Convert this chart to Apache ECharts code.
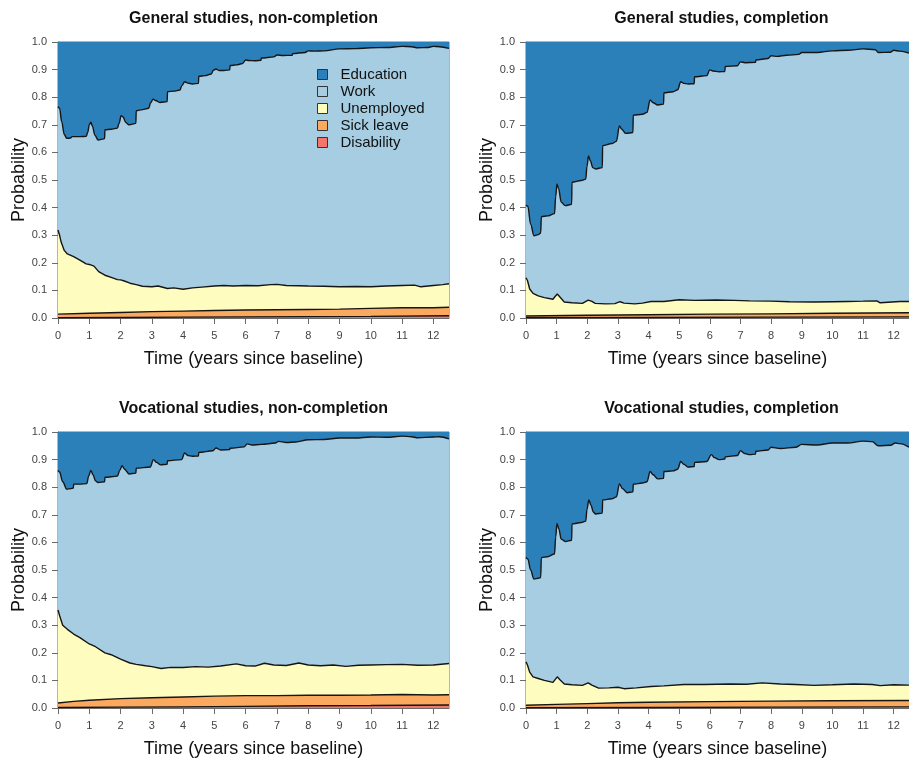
<!DOCTYPE html>
<html>
<head>
<meta charset="utf-8">
<script src="https://cdn.jsdelivr.net/npm/echarts@6/dist/echarts.min.js"></script>
<style>
  html, body { margin: 0; padding: 0; background: #fff; }
  #main { width: 909px; height: 761px; }
</style>
</head>
<body>
<div id="main"></div>
<script>
// states, bottom of the stack last
const states = ['Education', 'Work', 'Unemployed', 'Sick leave', 'Disability']
const stateColors = ['#2c80b9', '#a6cde2', '#fefcbf', '#fba95f', '#f2766b']
const titles = [
  'General studies, non-completion',
  'General studies, completion',
  'Vocational studies, non-completion',
  'Vocational studies, completion'
]
const yearTicks = [0, 1, 2, 3, 4, 5, 6, 7, 8, 9, 10, 11, 12]

// upper edge of each band, [years, cumulative probability]
const eduTop = [[0, 1], [12.5, 1]]

// general studies, non-completion
const gnWorkTop = [[0,0.766],[0.05,0.76],[0.12,0.71],[0.2,0.665],[0.28,0.651],[0.4,0.652],[0.45,0.657],[0.7,0.657],[0.9,0.658],[0.95,0.672],[1.0,0.700],[1.05,0.709],[1.1,0.695],[1.18,0.662],[1.28,0.645],[1.42,0.648],[1.49,0.650],[1.5,0.682],[1.7,0.684],[1.9,0.688],[1.95,0.705],[2.02,0.733],[2.08,0.728],[2.17,0.708],[2.27,0.700],[2.49,0.705],[2.5,0.751],[2.7,0.755],[2.9,0.760],[2.96,0.78],[3.04,0.793],[3.12,0.788],[3.26,0.781],[3.49,0.784],[3.5,0.82],[3.7,0.822],[3.9,0.826],[3.96,0.842],[4.05,0.856],[4.15,0.851],[4.3,0.848],[4.49,0.85],[4.5,0.876],[4.7,0.878],[4.9,0.884],[4.97,0.898],[5.05,0.902],[5.15,0.897],[5.3,0.897],[5.49,0.899],[5.5,0.915],[5.7,0.917],[5.9,0.922],[6.0,0.935],[6.1,0.933],[6.3,0.932],[6.49,0.934],[6.5,0.942],[6.9,0.946],[7.0,0.953],[7.2,0.951],[7.49,0.952],[7.5,0.958],[7.9,0.962],[8.0,0.968],[8.2,0.967],[8.5,0.968],[9.0,0.975],[9.5,0.976],[10.0,0.979],[10.5,0.980],[11.0,0.984],[11.3,0.983],[11.5,0.979],[11.8,0.980],[12.0,0.984],[12.2,0.983],[12.5,0.977]]
const gnUnempTop = [[0,0.319],[0.05,0.3],[0.1,0.275],[0.2,0.245],[0.3,0.232],[0.5,0.222],[0.7,0.21],[0.9,0.196],[1.0,0.194],[1.05,0.198],[1.15,0.188],[1.3,0.168],[1.5,0.155],[1.7,0.147],[1.9,0.139],[2.0,0.138],[2.1,0.135],[2.3,0.126],[2.5,0.121],[2.7,0.115],[3.0,0.113],[3.2,0.116],[3.5,0.107],[3.7,0.109],[4.0,0.104],[4.3,0.109],[4.6,0.112],[5.0,0.116],[5.3,0.118],[5.6,0.116],[6.0,0.118],[6.4,0.117],[6.8,0.121],[7.0,0.122],[7.3,0.118],[7.7,0.117],[8.0,0.116],[8.5,0.115],[9.0,0.113],[9.5,0.114],[10.0,0.113],[10.5,0.116],[11.0,0.118],[11.4,0.119],[11.6,0.113],[12.0,0.118],[12.3,0.121],[12.5,0.124]]
const gnSickTop = [[0,0.014],[1,0.017],[2,0.02],[3,0.023],[4,0.025],[5,0.027],[6,0.029],[7,0.03],[8,0.031],[9,0.032],[10,0.035],[11,0.037],[12,0.037],[12.5,0.039]]
const gnDisTop = [[0,0.001],[2,0.002],[4,0.003],[6,0.004],[8,0.005],[10,0.006],[12.5,0.008]]

// general studies, completion
const gcWorkTop = [[0,0.409],[0.06,0.405],[0.15,0.34],[0.26,0.298],[0.4,0.302],[0.48,0.308],[0.5,0.367],[0.7,0.37],[0.93,0.378],[0.97,0.44],[1.01,0.486],[1.06,0.47],[1.15,0.42],[1.28,0.407],[1.49,0.412],[1.5,0.492],[1.8,0.498],[1.95,0.503],[1.99,0.55],[2.04,0.587],[2.1,0.57],[2.18,0.545],[2.27,0.54],[2.49,0.545],[2.5,0.624],[2.8,0.632],[2.95,0.64],[3.05,0.696],[3.12,0.685],[3.25,0.669],[3.49,0.672],[3.5,0.735],[3.8,0.738],[3.95,0.745],[4.05,0.79],[4.15,0.78],[4.3,0.772],[4.49,0.775],[4.5,0.816],[4.8,0.82],[4.95,0.827],[5.05,0.856],[5.15,0.85],[5.3,0.848],[5.49,0.849],[5.5,0.874],[5.9,0.878],[6.0,0.899],[6.1,0.895],[6.3,0.892],[6.49,0.893],[6.5,0.911],[6.9,0.914],[7.0,0.928],[7.15,0.925],[7.49,0.926],[7.5,0.935],[7.9,0.94],[8.0,0.95],[8.2,0.948],[8.5,0.952],[8.9,0.955],[9.0,0.962],[9.5,0.962],[10.0,0.968],[10.5,0.97],[11.0,0.975],[11.4,0.972],[11.5,0.962],[11.9,0.963],[12.0,0.97],[12.2,0.967],[12.5,0.96]]
const gcUnempTop = [[0,0.146],[0.05,0.135],[0.12,0.105],[0.23,0.089],[0.4,0.08],[0.6,0.074],[0.88,0.068],[0.95,0.078],[1.02,0.087],[1.1,0.077],[1.25,0.058],[1.5,0.055],[1.84,0.053],[2.03,0.065],[2.15,0.06],[2.26,0.053],[2.6,0.051],[2.9,0.052],[3.07,0.059],[3.2,0.054],[3.55,0.051],[3.8,0.054],[4.08,0.06],[4.5,0.06],[5.0,0.066],[5.5,0.064],[6.2,0.065],[6.8,0.064],[7.3,0.062],[8.0,0.061],[8.6,0.059],[9.4,0.058],[10.0,0.059],[10.5,0.06],[11.0,0.061],[11.45,0.062],[11.56,0.055],[12.2,0.06],[12.5,0.06]]
const gcSickTop = [[0,0.007],[2,0.01],[4,0.012],[6,0.014],[8,0.015],[10,0.017],[12.5,0.019]]
const gcDisTop = [[0,0.001],[4,0.002],[8,0.003],[12.5,0.004]]

// vocational studies, non-completion
const vnWorkTop = [[0,0.861],[0.05,0.855],[0.15,0.82],[0.28,0.793],[0.4,0.795],[0.49,0.797],[0.5,0.811],[0.7,0.811],[0.92,0.813],[0.98,0.84],[1.05,0.861],[1.12,0.845],[1.2,0.823],[1.28,0.817],[1.49,0.82],[1.5,0.836],[1.9,0.84],[1.97,0.86],[2.05,0.878],[2.12,0.866],[2.27,0.848],[2.49,0.851],[2.5,0.869],[2.95,0.873],[3.05,0.9],[3.15,0.89],[3.27,0.881],[3.49,0.883],[3.5,0.896],[3.95,0.9],[4.05,0.924],[4.15,0.915],[4.3,0.912],[4.49,0.913],[4.5,0.926],[4.95,0.932],[5.05,0.942],[5.2,0.935],[5.49,0.936],[5.5,0.941],[5.95,0.946],[6.05,0.957],[6.2,0.953],[6.5,0.955],[6.95,0.96],[7.05,0.966],[7.3,0.962],[7.6,0.964],[8.0,0.972],[8.5,0.973],[9.0,0.978],[9.5,0.978],[10.0,0.982],[10.5,0.981],[11.0,0.985],[11.3,0.983],[11.5,0.979],[12.0,0.982],[12.2,0.983],[12.5,0.975]]
const vnUnempTop = [[0,0.355],[0.05,0.335],[0.15,0.3],[0.3,0.285],[0.5,0.268],[0.7,0.255],[1.0,0.232],[1.2,0.222],[1.5,0.2],[1.7,0.193],[2.0,0.177],[2.3,0.163],[2.5,0.158],[2.8,0.153],[3.0,0.15],[3.3,0.143],[3.6,0.147],[4.0,0.147],[4.4,0.15],[4.8,0.148],[5.2,0.152],[5.7,0.16],[6.0,0.153],[6.3,0.152],[6.6,0.162],[6.9,0.156],[7.3,0.154],[7.7,0.163],[8.0,0.156],[8.4,0.153],[8.8,0.156],[9.2,0.151],[9.6,0.155],[10.0,0.156],[10.5,0.157],[11.0,0.158],[11.5,0.155],[12.0,0.156],[12.5,0.161]]
const vnSickTop = [[0,0.018],[0.5,0.024],[1,0.028],[2,0.034],[3,0.037],[4,0.04],[5,0.043],[6,0.045],[7,0.045],[8,0.046],[9,0.046],[10,0.047],[11,0.049],[12,0.047],[12.5,0.048]]
const vnDisTop = [[0,0.002],[2,0.003],[4,0.004],[6,0.006],[8,0.008],[10,0.009],[12.5,0.011]]

// vocational studies, completion
const vcWorkTop = [[0,0.546],[0.06,0.54],[0.15,0.5],[0.26,0.467],[0.4,0.47],[0.48,0.473],[0.5,0.545],[0.7,0.548],[0.93,0.558],[0.97,0.62],[1.01,0.669],[1.07,0.65],[1.15,0.612],[1.28,0.603],[1.49,0.608],[1.5,0.667],[1.8,0.672],[1.95,0.677],[1.99,0.72],[2.05,0.754],[2.12,0.735],[2.2,0.71],[2.27,0.703],[2.49,0.706],[2.5,0.754],[2.8,0.758],[2.95,0.765],[3.05,0.812],[3.15,0.795],[3.3,0.78],[3.49,0.783],[3.5,0.811],[3.8,0.815],[3.95,0.82],[4.05,0.857],[4.15,0.845],[4.3,0.83],[4.49,0.832],[4.5,0.857],[4.8,0.859],[4.95,0.865],[5.05,0.893],[5.15,0.883],[5.3,0.873],[5.49,0.875],[5.5,0.89],[5.9,0.893],[6.05,0.918],[6.15,0.907],[6.3,0.9],[6.49,0.902],[6.5,0.91],[6.9,0.915],[7.0,0.932],[7.15,0.922],[7.3,0.918],[7.49,0.92],[7.5,0.93],[7.9,0.935],[8.0,0.945],[8.3,0.94],[8.8,0.945],[9.0,0.955],[9.5,0.953],[10.0,0.96],[10.5,0.96],[11.0,0.967],[11.3,0.965],[11.5,0.95],[11.9,0.952],[12.05,0.96],[12.2,0.958],[12.5,0.945]]
const vcUnempTop = [[0,0.167],[0.05,0.155],[0.12,0.13],[0.23,0.113],[0.4,0.107],[0.6,0.1],[0.88,0.093],[0.95,0.103],[1.02,0.113],[1.1,0.103],[1.25,0.087],[1.5,0.084],[1.84,0.082],[2.03,0.091],[2.15,0.083],[2.37,0.072],[2.7,0.073],[3.0,0.075],[3.2,0.07],[3.6,0.073],[4.08,0.078],[4.5,0.08],[5.15,0.085],[5.8,0.085],[6.65,0.087],[7.2,0.086],[7.7,0.091],[8.3,0.087],[8.8,0.085],[9.4,0.082],[10.0,0.084],[10.7,0.087],[11.3,0.085],[11.56,0.081],[12.0,0.084],[12.5,0.083]]
const vcSickTop = [[0,0.01],[1,0.013],[2,0.016],[3,0.019],[4,0.021],[6,0.023],[8,0.025],[10,0.026],[12.5,0.027]]
const vcDisTop = [[0,0.001],[4,0.002],[8,0.003],[12.5,0.004]]

const panels = [
  [eduTop, gnWorkTop, gnUnempTop, gnSickTop, gnDisTop],
  [eduTop, gcWorkTop, gcUnempTop, gcSickTop, gcDisTop],
  [eduTop, vnWorkTop, vnUnempTop, vnSickTop, vnDisTop],
  [eduTop, vcWorkTop, vcUnempTop, vcSickTop, vcDisTop]
]

// plot boxes (px), the right column runs past the window edge like the original
const boxes = [
  {left: 58, top: 42},
  {left: 526, top: 42},
  {left: 58, top: 432},
  {left: 526, top: 432}
]
const plotW = 391, plotH = 276
const font = '"Liberation Sans", Arial, Helvetica, sans-serif'

let myEcharts = echarts.init(document.getElementById('main'))

let grid = [], xAxis = [], yAxis = [], series = [], title = []
boxes.forEach((b, i) => {
  grid.push({
    left: b.left, top: b.top, width: plotW, height: plotH,
    show: true, borderColor: '#6b6b6b', borderWidth: 1, backgroundColor: 'transparent'
  })
  title.push({
    text: titles[i],
    left: b.left + plotW / 2,
    top: b.top - 31,
    textAlign: 'center',
    padding: 0,
    textStyle: {fontFamily: font, fontSize: 16, fontWeight: 'bold', color: '#111'}
  })
  xAxis.push({
    type: 'value', gridIndex: i, min: 0, max: 12.5, interval: 1,
    name: 'Time (years since baseline)', nameLocation: 'middle', nameGap: 32,
    nameTextStyle: {fontFamily: font, fontSize: 18, color: '#111'},
    axisLine: {show: true, lineStyle: {color: '#6b6b6b'}},
    axisTick: {show: true, length: 6, customValues: yearTicks, lineStyle: {color: '#6b6b6b'}},
    axisLabel: {customValues: yearTicks, margin: 12, fontFamily: font, fontSize: 11, color: '#444'},
    splitLine: {show: false}
  })
  yAxis.push({
    type: 'value', gridIndex: i, min: 0, max: 1, interval: 0.1,
    name: 'Probability', nameLocation: 'middle', nameGap: 29,
    nameTextStyle: {fontFamily: font, fontSize: 18, color: '#111'},
    axisLine: {show: true, lineStyle: {color: '#6b6b6b'}},
    axisTick: {show: true, length: 6, lineStyle: {color: '#6b6b6b'}},
    axisLabel: {margin: 11, fontFamily: font, fontSize: 11, color: '#444', formatter: v => v.toFixed(1)},
    splitLine: {show: false}
  })
  panels[i].forEach((edge, k) => {
    series.push({
      name: states[k],
      type: 'line',
      xAxisIndex: i, yAxisIndex: i,
      data: edge,
      symbol: 'none',
      smooth: k === 1 ? 0.35 : false,
      smoothMonotone: 'x',
      z: 2 + k,
      itemStyle: {color: stateColors[k]},
      lineStyle: {color: '#151515', width: k === 0 ? 0 : 1.4},
      areaStyle: {color: stateColors[k], opacity: 1, origin: 'start'}
    })
  })
})

let option = {
  animation: false,
  backgroundColor: '#fff',
  title: title,
  legend: {
    orient: 'vertical',
    left: 317, top: 67,
    padding: 0,
    itemWidth: 10, itemHeight: 10, itemGap: 2,
    icon: 'rect',
    selectedMode: false,
    textStyle: {fontFamily: font, fontSize: 15, color: '#111', padding: [0, 0, 0, 8]},
    data: states.map((s, k) => ({
      name: s,
      itemStyle: {color: stateColors[k], borderColor: '#333', borderWidth: 1}
    }))
  },
  grid: grid,
  xAxis: xAxis,
  yAxis: yAxis,
  series: series
}
myEcharts.setOption(option)
</script>
</body>
</html>
